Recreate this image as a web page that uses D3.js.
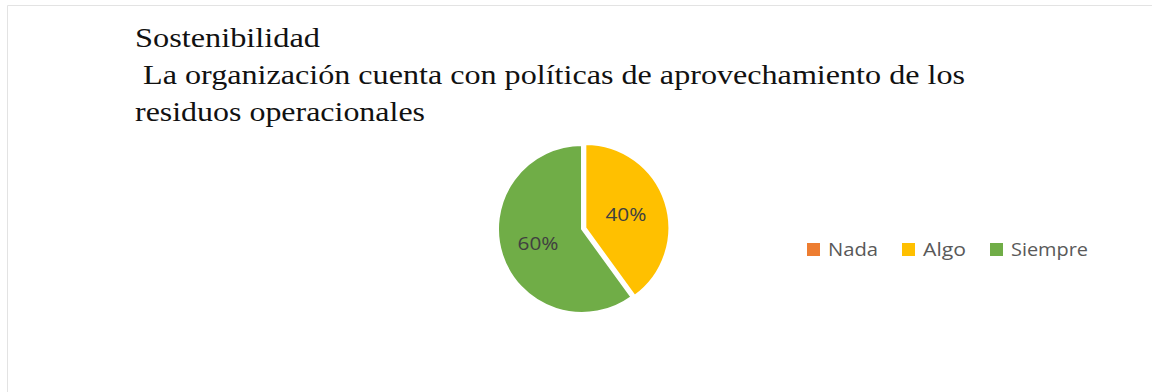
<!DOCTYPE html>
<html>
<head>
<meta charset="utf-8">
<script src="https://cdn.jsdelivr.net/npm/d3@7"></script>
<style>
    body { margin: 0; background: #fff; }
    svg { display: block; }
</style>
</head>
<body>
<div id="chart"></div>
<script>
    // datos
    let categories = ["Nada", "Algo", "Siempre"];
    let values = [0, 40, 60];
    let colors = ["#ED7D31", "#FFC000", "#70AD47"];
    let titleLines = ["Sostenibilidad", " La organización cuenta con políticas de aprovechamiento de los", "residuos operacionales"];

    let width = 1152
    let height = 392

    let svg = d3.select("#chart").append("svg")
        .attr("width", width)
        .attr("height", height);

    // marco gris claro
    svg.append("line")
        .attr("x1", 7.5).attr("y1", 5.5).attr("x2", width).attr("y2", 5.5)
        .attr("stroke", "#e3e3e3");
    svg.append("line")
        .attr("x1", 7.5).attr("y1", 5.5).attr("x2", 7.5).attr("y2", height)
        .attr("stroke", "#e3e3e3");

    // titulo (la imagen original esta algo estirada a lo ancho)
    let titleWidths = [185, 830, 290];
    let title = svg.append("g")
        .attr("font-family", "'Liberation Serif', 'Times New Roman', serif")
        .attr("font-size", 28)
        .attr("fill", "#111");
    title.selectAll("text")
        .data(titleLines)
        .enter().append("text")
        .attr("x", 135)
        .attr("y", (d, i) => 47 + i * 37)
        .attr("xml:space", "preserve")
        .style("white-space", "pre")
        .attr("textLength", (d, i) => titleWidths[i])
        .attr("lengthAdjust", "spacingAndGlyphs")
        .text(d => d);

    // pastel
    let cx = 582, cy = 229, r = 84;
    let pie = d3.pie().sort(null).value(d => d.value);
    let data = categories.map((c, i) => ({name: c, value: values[i], color: colors[i]}));
    let arcs = pie(data);
    let arc = d3.arc().innerRadius(0).outerRadius(r);

    let pieGroup = svg.append("g")
        .attr("transform", "translate(" + cx + "," + cy + ")");

    pieGroup.selectAll("path")
        .data(arcs.filter(d => d.value > 0))
        .enter().append("path")
        .attr("d", arc)
        .attr("fill", d => d.data.color)
        .attr("stroke", "#fff")
        .attr("stroke-width", 2)
        .attr("transform", function (d) {
            // la porcion "Algo" esta un poco separada
            if (d.data.name !== "Algo") return null;
            let mid = (d.startAngle + d.endAngle) / 2;
            return "translate(" + (Math.sin(mid) * 3.5) + "," + (-Math.cos(mid) * 3.5) + ")";
        });

    let labelArc = d3.arc().innerRadius(r * 0.55).outerRadius(r * 0.55);
    pieGroup.selectAll("text")
        .data(arcs.filter(d => d.value > 0))
        .enter().append("text")
        .attr("transform", d => "translate(" + labelArc.centroid(d) + ")")
        .attr("text-anchor", "middle")
        .attr("dy", "0.35em")
        .attr("font-family", "'Open Sans', sans-serif")
        .attr("font-size", 19)
        .attr("textLength", 41)
        .attr("lengthAdjust", "spacingAndGlyphs")
        .attr("fill", "#404040")
        .text(d => d.value + "%");

    // leyenda
    let legendX = [807, 902, 990];
    let legendW = [50, 43, 77];
    let legend = svg.append("g")
        .attr("transform", "translate(0,250)");
    let items = legend.selectAll("g")
        .data(data)
        .enter().append("g")
        .attr("transform", (d, i) => "translate(" + legendX[i] + ",0)");
    items.append("rect")
        .attr("x", 0).attr("y", -7)
        .attr("width", 13).attr("height", 13)
        .attr("fill", d => d.color);
    items.append("text")
        .attr("x", 21)
        .attr("dy", "0.35em")
        .attr("font-family", "'Open Sans', sans-serif")
        .attr("font-size", 18)
        .attr("textLength", (d, i) => legendW[i])
        .attr("lengthAdjust", "spacingAndGlyphs")
        .attr("fill", "#595959")
        .text(d => d.name);
</script>
</body>
</html>
